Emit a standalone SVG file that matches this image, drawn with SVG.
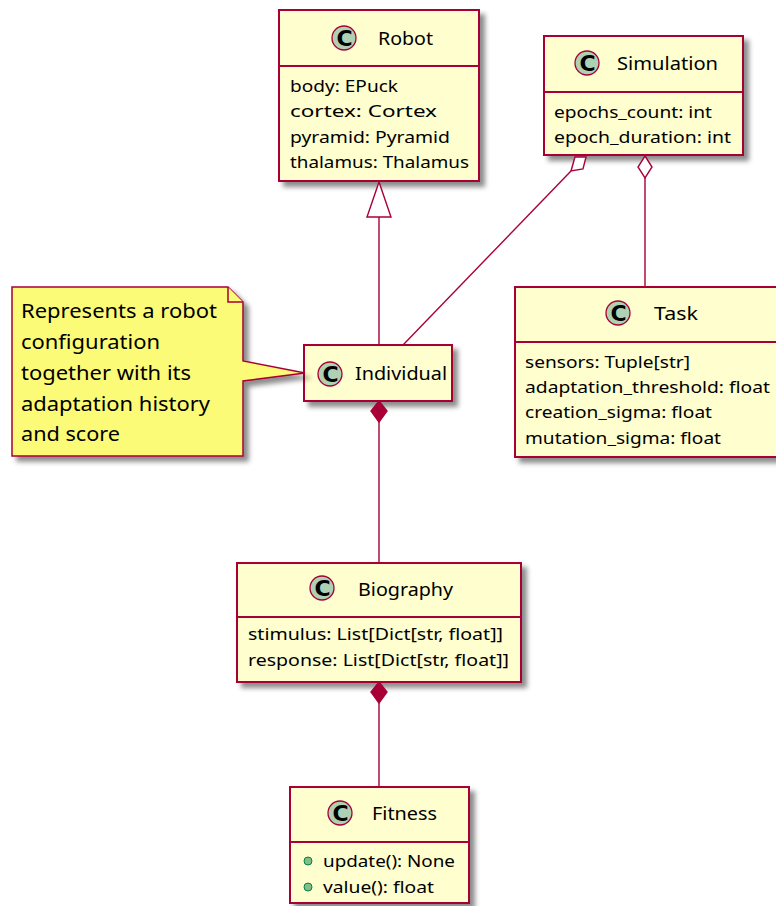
<svg xmlns="http://www.w3.org/2000/svg" width="776" height="906" viewBox="0 0 776 906">
  <defs>
    <filter id="shadow" x="-10%" y="-10%" width="130%" height="130%">
      <feGaussianBlur in="SourceAlpha" stdDeviation="2.5"/>
      <feOffset dx="5" dy="5" result="blur"/>
      <feFlood flood-color="#000" flood-opacity="0.45"/>
      <feComposite in2="blur" operator="in"/>
      <feMerge>
        <feMergeNode/>
        <feMergeNode in="SourceGraphic"/>
      </feMerge>
    </filter>
    <style>
      .box { fill: #FEFECE; stroke: #A80036; stroke-width: 2; }
      .sep { stroke: #A80036; stroke-width: 2; }
      .note { fill: #FBFB77; stroke: #A80036; stroke-width: 1.5; }
      .spot { fill: #ADD1B2; stroke: #A80036; stroke-width: 1.3; }
      .spotc { font-family: "DejaVu Sans", "Noto Sans", sans-serif; font-size: 22px; font-weight: bold; fill: #000; text-anchor: middle; }
      .title { font-family: "Noto Sans", "DejaVu Sans", sans-serif; font-size: 18px; fill: #000; }
      .attr { font-family: "Noto Sans", "DejaVu Sans", sans-serif; font-size: 16px; fill: #000; }
      .notetext { font-family: "Noto Sans", "DejaVu Sans", sans-serif; font-size: 19px; fill: #000; }
      .link { stroke: #A80036; stroke-width: 1.4; fill: none; }
      .open { fill: #FFFFFF; stroke: #A80036; stroke-width: 1.4; }
      .solid { fill: #A80036; stroke: #A80036; stroke-width: 1.4; }
      .method { fill: #84BE84; stroke: #038048; stroke-width: 1; }
    </style>
  </defs>
  <rect width="776" height="906" fill="#FFFFFF"/>

  <!-- Robot -->
  <g id="Robot">
    <rect class="box" x="279" y="10" width="200" height="171" filter="url(#shadow)"/>
    <line class="sep" x1="279" y1="66" x2="479" y2="66"/>
    <circle class="spot" cx="344" cy="38" r="12"/>
    <text class="spotc" x="344.5" y="46">C</text>
    <text class="title" x="378" y="45" textLength="55" lengthAdjust="spacingAndGlyphs">Robot</text>
    <text class="attr" x="290" y="92" textLength="108" lengthAdjust="spacingAndGlyphs">body: EPuck</text>
    <text class="attr" x="290" y="117" textLength="147" lengthAdjust="spacingAndGlyphs">cortex: Cortex</text>
    <text class="attr" x="290" y="143" textLength="160" lengthAdjust="spacingAndGlyphs">pyramid: Pyramid</text>
    <text class="attr" x="290" y="168" textLength="179" lengthAdjust="spacingAndGlyphs">thalamus: Thalamus</text>
  </g>

  <!-- Simulation -->
  <g id="Simulation">
    <rect class="box" x="544" y="36" width="199" height="119" filter="url(#shadow)"/>
    <line class="sep" x1="544" y1="92" x2="743" y2="92"/>
    <circle class="spot" cx="587" cy="63" r="12"/>
    <text class="spotc" x="587.5" y="71">C</text>
    <text class="title" x="617" y="70" textLength="101" lengthAdjust="spacingAndGlyphs">Simulation</text>
    <text class="attr" x="554" y="118" textLength="158" lengthAdjust="spacingAndGlyphs">epochs_count: int</text>
    <text class="attr" x="554" y="143" textLength="177" lengthAdjust="spacingAndGlyphs">epoch_duration: int</text>
  </g>

  <!-- Individual -->
  <g id="Individual">
    <rect class="box" x="304" y="345" width="148" height="56" filter="url(#shadow)"/>
    <circle class="spot" cx="330" cy="374" r="12"/>
    <text class="spotc" x="330.5" y="382">C</text>
    <text class="title" x="355" y="380" textLength="92" lengthAdjust="spacingAndGlyphs">Individual</text>
  </g>

  <!-- Note attached to Individual -->
  <g id="IndividualNote">
    <polygon class="note" points="12,287 228,287 243,302 243,361 305,373 243,381 243,456 12,456" filter="url(#shadow)"/>
    <polyline class="note" points="228,287 228,302 243,302"/>
    <text class="notetext" x="21" y="318" textLength="196" lengthAdjust="spacingAndGlyphs">Represents a robot</text>
    <text class="notetext" x="21" y="349" textLength="139" lengthAdjust="spacingAndGlyphs">configuration</text>
    <text class="notetext" x="21" y="380" textLength="170" lengthAdjust="spacingAndGlyphs">together with its</text>
    <text class="notetext" x="21" y="411" textLength="189" lengthAdjust="spacingAndGlyphs">adaptation history</text>
    <text class="notetext" x="21" y="441" textLength="99" lengthAdjust="spacingAndGlyphs">and score</text>
  </g>

  <!-- Task -->
  <g id="Task">
    <rect class="box" x="515" y="287" width="272" height="170" filter="url(#shadow)"/>
    <line class="sep" x1="515" y1="342" x2="787" y2="342"/>
    <circle class="spot" cx="618" cy="313" r="12"/>
    <text class="spotc" x="618.5" y="321">C</text>
    <text class="title" x="654" y="320" textLength="44" lengthAdjust="spacingAndGlyphs">Task</text>
    <text class="attr" x="525" y="368" textLength="165" lengthAdjust="spacingAndGlyphs">sensors: Tuple[str]</text>
    <text class="attr" x="525" y="393" textLength="245" lengthAdjust="spacingAndGlyphs">adaptation_threshold: float</text>
    <text class="attr" x="525" y="418" textLength="187" lengthAdjust="spacingAndGlyphs">creation_sigma: float</text>
    <text class="attr" x="525" y="444" textLength="196" lengthAdjust="spacingAndGlyphs">mutation_sigma: float</text>
  </g>

  <!-- Biography -->
  <g id="Biography">
    <rect class="box" x="237" y="563" width="284" height="119" filter="url(#shadow)"/>
    <line class="sep" x1="237" y1="617" x2="521" y2="617"/>
    <circle class="spot" cx="322" cy="588" r="12"/>
    <text class="spotc" x="322.5" y="596">C</text>
    <text class="title" x="358" y="596" textLength="95" lengthAdjust="spacingAndGlyphs">Biography</text>
    <text class="attr" x="248" y="640" textLength="255" lengthAdjust="spacingAndGlyphs">stimulus: List[Dict[str, float]]</text>
    <text class="attr" x="248" y="666" textLength="261" lengthAdjust="spacingAndGlyphs">response: List[Dict[str, float]]</text>
  </g>

  <!-- Fitness -->
  <g id="Fitness">
    <rect class="box" x="290" y="787" width="179" height="116" filter="url(#shadow)"/>
    <line class="sep" x1="290" y1="842" x2="469" y2="842"/>
    <circle class="spot" cx="340" cy="813" r="12"/>
    <text class="spotc" x="340.5" y="821">C</text>
    <text class="title" x="372" y="820" textLength="65" lengthAdjust="spacingAndGlyphs">Fitness</text>
    <circle class="method" cx="308" cy="861" r="4"/>
    <text class="attr" x="323" y="867" textLength="132" lengthAdjust="spacingAndGlyphs">update(): None</text>
    <circle class="method" cx="308" cy="887" r="4"/>
    <text class="attr" x="323" y="893" textLength="111" lengthAdjust="spacingAndGlyphs">value(): float</text>
  </g>

  <!-- Connectors -->
  <g id="links">
    <!-- Individual extends Robot -->
    <line class="link" x1="379" y1="217" x2="379" y2="345"/>
    <polygon class="open" points="379,182 367,217 391,217"/>
    <!-- Simulation aggregates Individual -->
    <line class="link" x1="571" y1="171" x2="403" y2="345"/>
    <polygon class="open" points="575,157 586,157 583,169 571,171"/>
    <!-- Simulation aggregates Task -->
    <line class="link" x1="645" y1="178" x2="645" y2="287"/>
    <polygon class="open" points="645,156 652,167 645,178 638,167"/>
    <!-- Individual composes Biography -->
    <line class="link" x1="379" y1="422" x2="379" y2="563"/>
    <polygon class="solid" points="379,401 387,411 379,422 371,411"/>
    <!-- Biography composes Fitness -->
    <line class="link" x1="379" y1="703" x2="379" y2="787"/>
    <polygon class="solid" points="379,682 387,692 379,703 371,692"/>
  </g>
</svg>
